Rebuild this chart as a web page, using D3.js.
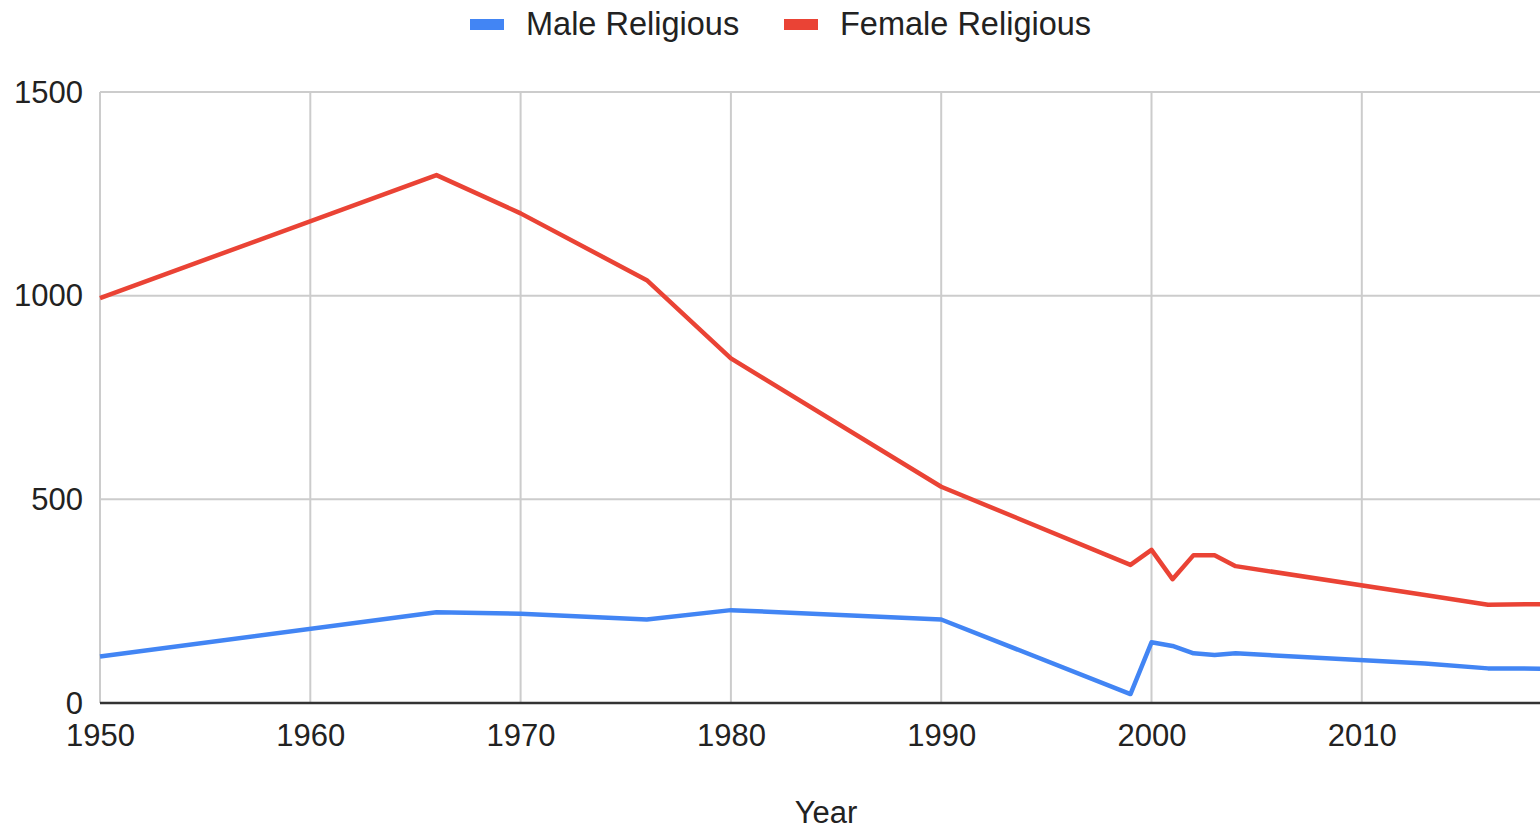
<!DOCTYPE html>
<html>
<head>
<meta charset="utf-8">
<title>Religious</title>
<script src="https://d3js.org/d3.v7.min.js"></script>
<style>
  body { margin: 0; background: #fff; }
  svg text { font-family: "Liberation Sans", Arial, sans-serif; fill: #222; }
  .grid line { stroke: #cccccc; stroke-width: 2px; }
  .axis path, .axis line { display: none; }
</style>
</head>
<body>
<div id="chart"></div>
<script>
// data
var years = [1950, 1966, 1970, 1976, 1980, 1990, 1999, 2000, 2001, 2002, 2003, 2004, 2013, 2016, 2019];
var male = [114, 223, 219, 205, 228, 205, 22, 149, 140, 122, 118, 122, 97, 85, 84];
var female = [994, 1296, 1202, 1038, 846, 531, 339, 376, 304, 363, 363, 336, 265, 241, 243];
var xTicks = [1950, 1960, 1970, 1980, 1990, 2000, 2010];
var yTicks = [0, 500, 1000, 1500];
var seriesNames = ["Male Religious", "Female Religious"];
var seriesColors = ["#4285f4", "#ea4335"];

var W = 1540, H = 831;
var plotLeft = 100, plotTop = 92, plotBottom = 703;

var svg = d3.select("#chart").append("svg")
    .attr("width", W)
    .attr("height", H);

var x = d3.scaleLinear().domain([1950, 2020]).range([plotLeft, plotLeft + 70 * 21.03]);
var y = d3.scaleLinear().domain([0, 1500]).range([plotBottom, plotTop]);

// grid
var grid = svg.append("g").attr("class", "grid");
grid.selectAll(".h").data(yTicks).enter().append("line")
    .attr("x1", plotLeft).attr("x2", W)
    .attr("y1", function(d) { return y(d); })
    .attr("y2", function(d) { return y(d); });
grid.selectAll(".v").data(xTicks).enter().append("line")
    .attr("x1", function(d) { return x(d); })
    .attr("x2", function(d) { return x(d); })
    .attr("y1", plotTop).attr("y2", plotBottom);

// axes
svg.append("g")
    .attr("class", "axis")
    .attr("transform", "translate(0," + plotBottom + ")")
    .call(d3.axisBottom(x).tickValues(xTicks).tickFormat(d3.format("d")).tickSize(0))
    .selectAll("text").style("font-size", "31px").attr("dy", "0.71em").attr("y", 21);

svg.append("g")
    .attr("class", "axis")
    .attr("transform", "translate(" + plotLeft + ",0)")
    .call(d3.axisLeft(y).tickValues(yTicks).tickFormat(d3.format("d")).tickSize(0).tickPadding(17))
    .selectAll("text").style("font-size", "31px").attr("dy", "0.33em");

// lines
var rows = years.map(function(yr, i) { return { year: yr, m: male[i], f: female[i] }; });

svg.append("clipPath").attr("id", "clip")
  .append("rect").attr("x", plotLeft - 5).attr("y", 0).attr("width", W).attr("height", H);

var lineM = d3.line().x(function(d) { return x(d.year); }).y(function(d) { return y(d.m); });
var lineF = d3.line().x(function(d) { return x(d.year); }).y(function(d) { return y(d.f); });

svg.append("path").datum(rows)
    .attr("clip-path", "url(#clip)")
    .attr("fill", "none").attr("stroke", seriesColors[0])
    .attr("stroke-width", 4.5).attr("stroke-linejoin", "round")
    .attr("d", lineM);
svg.append("path").datum(rows)
    .attr("clip-path", "url(#clip)")
    .attr("fill", "none").attr("stroke", seriesColors[1])
    .attr("stroke-width", 4.5).attr("stroke-linejoin", "round")
    .attr("d", lineF);

// baseline
svg.append("line")
    .attr("x1", plotLeft).attr("x2", W)
    .attr("y1", y(0)).attr("y2", y(0))
    .attr("stroke", "#333").attr("stroke-width", 2.5);

// legend
var legendX = [470, 784];
var lg = svg.append("g");
seriesNames.forEach(function(name, i) {
  lg.append("rect")
      .attr("x", legendX[i]).attr("y", 19)
      .attr("width", 34).attr("height", 11)
      .attr("fill", seriesColors[i]);
  lg.append("text")
      .attr("x", legendX[i] + 56).attr("y", 35)
      .style("font-size", "32.5px")
      .text(name);
});

// axis title
svg.append("text")
    .attr("x", 826).attr("y", 823)
    .attr("text-anchor", "middle")
    .style("font-size", "31px")
    .text("Year");
</script>
</body>
</html>
